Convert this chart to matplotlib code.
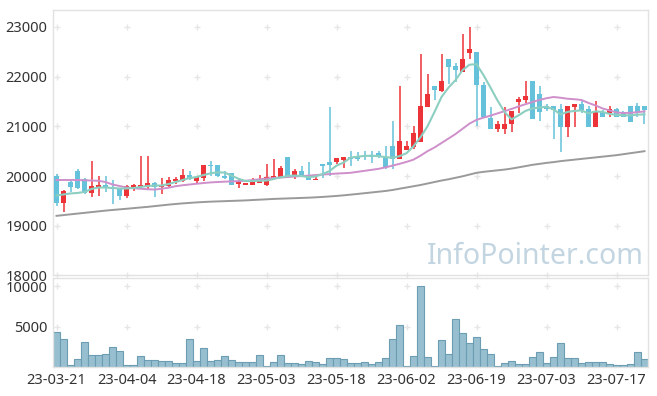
import matplotlib
matplotlib.use("Agg")
import matplotlib.pyplot as plt
import numpy as np
import pandas as pd

# trading days (KRX holidays removed)
holidays = ["2023-05-01", "2023-05-05", "2023-05-29", "2023-06-06"]
days = pd.bdate_range("2023-03-21", "2023-07-21")
days = days[~days.isin(pd.to_datetime(holidays))]
dates = [d.strftime("%y-%m-%d") for d in days]

opens = [20000, 19450, 19890, 20100, 19950, 19650, 19770, 19810, 19770, 19750,
         19590, 19780, 19770, 19770, 19870, 19770, 19800, 19910, 19900, 20020,
         19900, 19960, 20220, 20220, 20010, 20060, 19840, 19820, 19830, 19870,
         19810, 19940, 19990, 20390, 19990, 20110, 20010, 19930, 20250, 20290,
         20280, 20330, 20390, 20400, 20410, 20410, 20460, 20390, 20600, 20340,
         20530, 20580, 20680, 21390, 21810, 21710, 22350, 22210, 22100, 22480,
         22490, 21840, 21160, 20940, 20940, 21050, 21480, 21520, 21910, 21650,
         21400, 21400, 21340, 20990, 21380, 21440, 21340, 20990, 21290, 21260,
         21340, 21280, 21400, 21400, 21400]
highs = [20050, 19720, 19900, 20150, 19960, 20300, 20000, 20000, 19920, 19760,
         19820, 19850, 20400, 20400, 19880, 19960, 19990, 19980, 20150, 20110,
         20010, 20220, 20300, 20220, 20110, 20060, 19960, 19870, 19970, 20020,
         20250, 20350, 20210, 20390, 20150, 20210, 20290, 20010, 20250, 21390,
         20370, 20390, 20500, 20480, 20500, 20500, 20500, 20600, 21110, 21810,
         20700, 21000, 22450, 22050, 21810, 22450, 22350, 22270, 22850, 22990,
         22490, 21900, 21390, 21100, 21390, 21300, 21590, 21910, 21910, 21810,
         21450, 21400, 21440, 21400, 21440, 21520, 21400, 21500, 21320, 21400,
         21370, 21310, 21400, 21460, 21400]
lows = [19390, 19270, 19670, 19740, 19640, 19570, 19600, 19670, 19440, 19520,
        19560, 19700, 19730, 19740, 19570, 19640, 19770, 19850, 19880, 19920,
        19860, 19910, 20010, 19990, 19940, 19810, 19750, 19810, 19830, 19870,
        19800, 19940, 19990, 19990, 19940, 20010, 19930, 19930, 19960, 20010,
        20250, 20160, 20210, 20300, 20320, 20260, 20370, 20150, 20150, 20340,
        20530, 20550, 20680, 21390, 21530, 21700, 21860, 21900, 22100, 22350,
        21000, 21190, 20940, 20890, 20850, 20890, 21260, 21460, 21140, 21100,
        21300, 20750, 20480, 20780, 20990, 21260, 20990, 20990, 21190, 21190,
        21190, 21190, 21090, 21190, 21050]
closes = [19450, 19690, 19770, 19750, 19650, 19790, 19810, 19750, 19730, 19590,
          19790, 19810, 19810, 19870, 19770, 19810, 19930, 19940, 20020, 19940,
          19980, 20220, 20200, 20000, 19960, 19830, 19900, 19860, 19900, 19920,
          19980, 20010, 20160, 20000, 20110, 20010, 19930, 19950, 20200, 20230,
          20360, 20390, 20350, 20350, 20380, 20380, 20380, 20190, 20350, 20700,
          20600, 20870, 21400, 21650, 21730, 21910, 22200, 22130, 22350, 22560,
          21840, 21190, 20940, 21050, 21050, 21300, 21550, 21610, 21140, 21290,
          21340, 21320, 20990, 21400, 21440, 21320, 20990, 21300, 21190, 21340,
          21190, 21190, 21090, 21290, 21320]

ma5 = [19610, 19630, 19650, 19660, 19680, 19740, 19770, 19770, 19760, 19750,
       19750, 19760, 19780, 19800, 19810, 19810, 19840, 19880, 19920, 19960,
       19980, 20020, 20055, 20075, 20070, 20010, 19945, 19900, 19900, 19905,
       19910, 19940, 19975, 20000, 20010, 20000, 19980, 19990, 20040, 20100,
       20210, 20270, 20370, 20390, 20405, 20410, 20400, 20380, 20370, 20400,
       20460, 20600, 20780, 21000, 21290, 21590, 21780, 21930, 22130, 22240,
       22250, 22030, 21780, 21520, 21290, 21140, 21220, 21310, 21360, 21380,
       21395, 21340, 21240, 21290, 21310, 21320, 21260, 21300, 21290, 21250,
       21230, 21220, 21220, 21235, 21240]
ma20 = [19920, 19920, 19920, 19920, 19915, 19910, 19905, 19880, 19830, 19800,
        19770, 19755, 19745, 19735, 19728, 19745, 19765, 19795, 19815, 19830,
        19845, 19860, 19872, 19880, 19887, 19892, 19898, 19905, 19920, 19935,
        19950, 19960, 19970, 19980, 19990, 20000, 20008, 20020, 20030, 20040,
        20050, 20057, 20065, 20085, 20105, 20125, 20145, 20175, 20210, 20245,
        20285, 20330, 20410, 20500, 20575, 20665, 20755, 20845, 20950, 21055,
        21130, 21175, 21215, 21260, 21305, 21350, 21400, 21445, 21490, 21530,
        21565, 21590, 21575, 21555, 21545, 21530, 21470, 21420, 21360, 21320,
        21280, 21268, 21272, 21285, 21300]
ma60 = [19200, 19215, 19230, 19245, 19260, 19275, 19290, 19305, 19318, 19330,
        19342, 19355, 19368, 19380, 19395, 19410, 19425, 19438, 19450, 19460,
        19470, 19478, 19485, 19490, 19495, 19500, 19505, 19510, 19518, 19525,
        19532, 19540, 19545, 19550, 19555, 19560, 19565, 19572, 19580, 19590,
        19600, 19612, 19626, 19640, 19655, 19670, 19685, 19700, 19720, 19745,
        19770, 19795, 19820, 19850, 19880, 19910, 19935, 19965, 19995, 20030,
        20065, 20085, 20100, 20115, 20130, 20150, 20175, 20200, 20226, 20245,
        20265, 20280, 20300, 20315, 20330, 20345, 20360, 20375, 20390, 20405,
        20420, 20440, 20460, 20480, 20500]

volume = [4300, 3440, 250, 980, 3070, 1480, 1480, 1600, 2460, 2010,
          250, 250, 1350, 900, 900, 740, 740, 490, 490, 3440,
          740, 2340, 740, 900, 1350, 900, 660, 660, 660, 1480,
          120, 660, 1480, 490, 490, 410, 740, 660, 410, 1150,
          1150, 980, 490, 490, 660, 410, 660, 1110, 3480, 5160,
          120, 1350, 10000, 1230, 120, 3320, 1600, 5900, 4220, 2990,
          3690, 2210, 1600, 120, 490, 740, 410, 410, 1230, 1840,
          490, 1230, 2950, 1110, 1110, 490, 660, 660, 660, 410,
          250, 250, 410, 1840, 980]

up_color = "#ec3338"
down_color = "#66c1da"
grid_color = "#e6e6e6"

x = np.arange(len(dates))
o = np.array(opens)
c = np.array(closes)
up = c > o
colors = np.where(up, up_color, down_color)

fig = plt.figure(figsize=(6.57, 3.96), dpi=100)
plt.rcParams["font.family"] = ["Noto Sans", "DejaVu Sans"]

ax = fig.add_axes([0.0807, 0.3043, 0.9056, 0.6705])
axv = fig.add_axes([0.0807, 0.0725, 0.9056, 0.2255])

# candles
ax.vlines(x, lows, highs, colors=colors, linewidth=1.1, zorder=2)
body_low = np.minimum(o, c)
body_h = np.maximum(np.abs(c - o), 12)
ax.bar(x, body_h, bottom=body_low, width=0.72, color=colors, linewidth=0, zorder=3)

# moving averages
ax.plot(x, ma60, color="#9a9a9a", linewidth=1.4, zorder=4)
ax.plot(x, ma20, color="#cf8fcb", linewidth=1.4, zorder=4)
ax.plot(x, ma5, color="#8ccfc1", linewidth=1.5, zorder=4)

tick_idx = list(range(0, len(dates), 10))
price_ticks = list(range(18000, 23001, 1000))
vol_ticks = [5000, 10000]

ax.set_xlim(-0.5, len(dates) - 0.5)
ax.set_ylim(18000, 23340)
ax.set_yticks(price_ticks)
ax.set_xticks([])

axv.bar(x, volume, width=1.0, color="#97bfd0", edgecolor="#6c9db2", linewidth=0.8)
axv.set_xlim(-0.5, len(dates) - 0.5)
axv.set_ylim(0, 11000)
axv.set_yticks(vol_ticks)
axv.set_yticklabels(["5000", "10000"])
axv.set_xticks(tick_idx)
axv.set_xticklabels([dates[i] for i in tick_idx])

# "+" grid marks at tick crossings
gx, gy = np.meshgrid(tick_idx, price_ticks)
ax.plot(gx.ravel(), gy.ravel(), "+", color=grid_color, markersize=4, zorder=1, clip_on=False)
gx, gy = np.meshgrid(tick_idx, vol_ticks)
axv.plot(gx.ravel(), gy.ravel(), "+", color=grid_color, markersize=4, zorder=0)

for a in (ax, axv):
    for s in a.spines.values():
        s.set_color("#e2e2e2")
        s.set_linewidth(1)
    a.tick_params(length=0, labelsize=10.5, colors="#333333", pad=4)

ax.text(0.81, 0.07, "InfoPointer.com", transform=ax.transAxes, ha="center", va="center",
        fontsize=20.5, color="#c2d5e1", zorder=0)

fig.savefig("out.png", dpi=100)
